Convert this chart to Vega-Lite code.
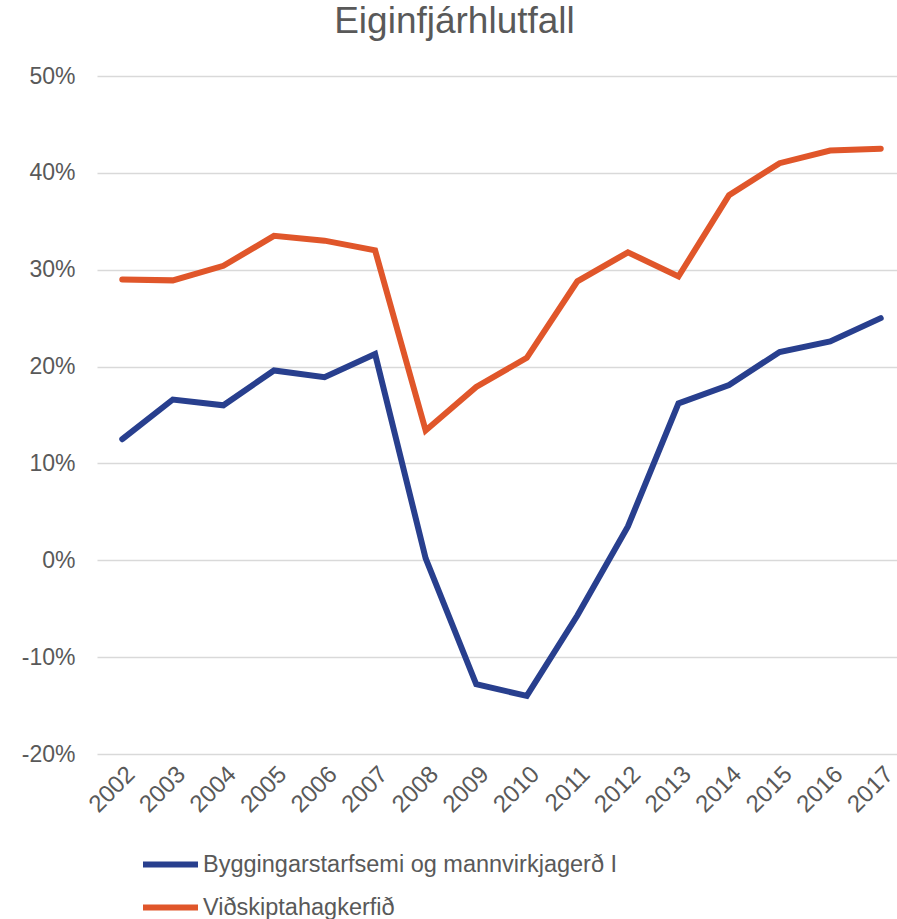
{
  "$schema": "https://vega.github.io/schema/vega-lite/v6.json",
  "width": 809,
  "height": 678,
  "autosize": {"type": "none"},
  "padding": {"left": 97, "top": 76, "right": 0, "bottom": 165},
  "background": "white",
  "title": {
    "text": "Eiginfjárhlutfall",
    "anchor": "middle",
    "dx": -47,
    "fontSize": 37,
    "font": "Liberation Sans",
    "fontWeight": "normal",
    "color": "#595959",
    "offset": 24
  },
  "data": {
    "values": [
      {"year": "2002", "series": "Byggingarstarfsemi og mannvirkjagerð I", "value": 0.125},
      {"year": "2003", "series": "Byggingarstarfsemi og mannvirkjagerð I", "value": 0.166},
      {"year": "2004", "series": "Byggingarstarfsemi og mannvirkjagerð I", "value": 0.160},
      {"year": "2005", "series": "Byggingarstarfsemi og mannvirkjagerð I", "value": 0.196},
      {"year": "2006", "series": "Byggingarstarfsemi og mannvirkjagerð I", "value": 0.189},
      {"year": "2007", "series": "Byggingarstarfsemi og mannvirkjagerð I", "value": 0.213},
      {"year": "2008", "series": "Byggingarstarfsemi og mannvirkjagerð I", "value": 0.002},
      {"year": "2009", "series": "Byggingarstarfsemi og mannvirkjagerð I", "value": -0.128},
      {"year": "2010", "series": "Byggingarstarfsemi og mannvirkjagerð I", "value": -0.140},
      {"year": "2011", "series": "Byggingarstarfsemi og mannvirkjagerð I", "value": -0.057},
      {"year": "2012", "series": "Byggingarstarfsemi og mannvirkjagerð I", "value": 0.035},
      {"year": "2013", "series": "Byggingarstarfsemi og mannvirkjagerð I", "value": 0.162},
      {"year": "2014", "series": "Byggingarstarfsemi og mannvirkjagerð I", "value": 0.181},
      {"year": "2015", "series": "Byggingarstarfsemi og mannvirkjagerð I", "value": 0.215},
      {"year": "2016", "series": "Byggingarstarfsemi og mannvirkjagerð I", "value": 0.226},
      {"year": "2017", "series": "Byggingarstarfsemi og mannvirkjagerð I", "value": 0.250},
      {"year": "2002", "series": "Viðskiptahagkerfið", "value": 0.290},
      {"year": "2003", "series": "Viðskiptahagkerfið", "value": 0.289},
      {"year": "2004", "series": "Viðskiptahagkerfið", "value": 0.304},
      {"year": "2005", "series": "Viðskiptahagkerfið", "value": 0.335},
      {"year": "2006", "series": "Viðskiptahagkerfið", "value": 0.330},
      {"year": "2007", "series": "Viðskiptahagkerfið", "value": 0.320},
      {"year": "2008", "series": "Viðskiptahagkerfið", "value": 0.134},
      {"year": "2009", "series": "Viðskiptahagkerfið", "value": 0.179},
      {"year": "2010", "series": "Viðskiptahagkerfið", "value": 0.209},
      {"year": "2011", "series": "Viðskiptahagkerfið", "value": 0.288},
      {"year": "2012", "series": "Viðskiptahagkerfið", "value": 0.318},
      {"year": "2013", "series": "Viðskiptahagkerfið", "value": 0.293},
      {"year": "2014", "series": "Viðskiptahagkerfið", "value": 0.377},
      {"year": "2015", "series": "Viðskiptahagkerfið", "value": 0.410},
      {"year": "2016", "series": "Viðskiptahagkerfið", "value": 0.423},
      {"year": "2017", "series": "Viðskiptahagkerfið", "value": 0.425}
    ]
  },
  "mark": {"type": "line", "strokeWidth": 6, "strokeCap": "round", "strokeJoin": "miter"},
  "encoding": {
    "x": {
      "field": "year",
      "type": "ordinal",
      "scale": {"type": "point", "padding": 0.5},
      "axis": {
        "title": null,
        "labelAngle": -45,
        "labelFontSize": 24,
        "labelFont": "Liberation Sans",
        "labelColor": "#595959",
        "labelPadding": 8,
        "ticks": false,
        "domain": false,
        "grid": false
      }
    },
    "y": {
      "field": "value",
      "type": "quantitative",
      "scale": {"domain": [-0.2, 0.5], "nice": false, "zero": false},
      "axis": {
        "title": null,
        "values": [-0.2, -0.1, 0, 0.1, 0.2, 0.3, 0.4, 0.5],
        "labelExpr": "(datum.value < -0.0001 ? '-' : '') + format(abs(datum.value), '.0%')",
        "labelFontSize": 23,
        "labelFont": "Liberation Sans",
        "labelColor": "#595959",
        "labelPadding": 22,
        "ticks": false,
        "domain": false,
        "grid": true,
        "gridColor": "#d9d9d9",
        "gridWidth": 1.5
      }
    },
    "color": {
      "field": "series",
      "type": "nominal",
      "sort": ["Byggingarstarfsemi og mannvirkjagerð I", "Viðskiptahagkerfið"],
      "scale": {
        "domain": ["Byggingarstarfsemi og mannvirkjagerð I", "Viðskiptahagkerfið"],
        "range": ["#283F8E", "#E0562A"]
      },
      "legend": {
        "title": null,
        "orient": "none",
        "legendX": 43,
        "legendY": 758,
        "direction": "vertical",
        "symbolType": "stroke",
        "symbolSize": 3025,
        "symbolStrokeWidth": 6,
        "labelFontSize": 23.5,
        "labelFont": "Liberation Sans",
        "labelColor": "#595959",
        "labelOffset": 2,
        "labelLimit": 600,
        "rowPadding": -12
      }
    }
  },
  "config": {"view": {"stroke": null}}
}
